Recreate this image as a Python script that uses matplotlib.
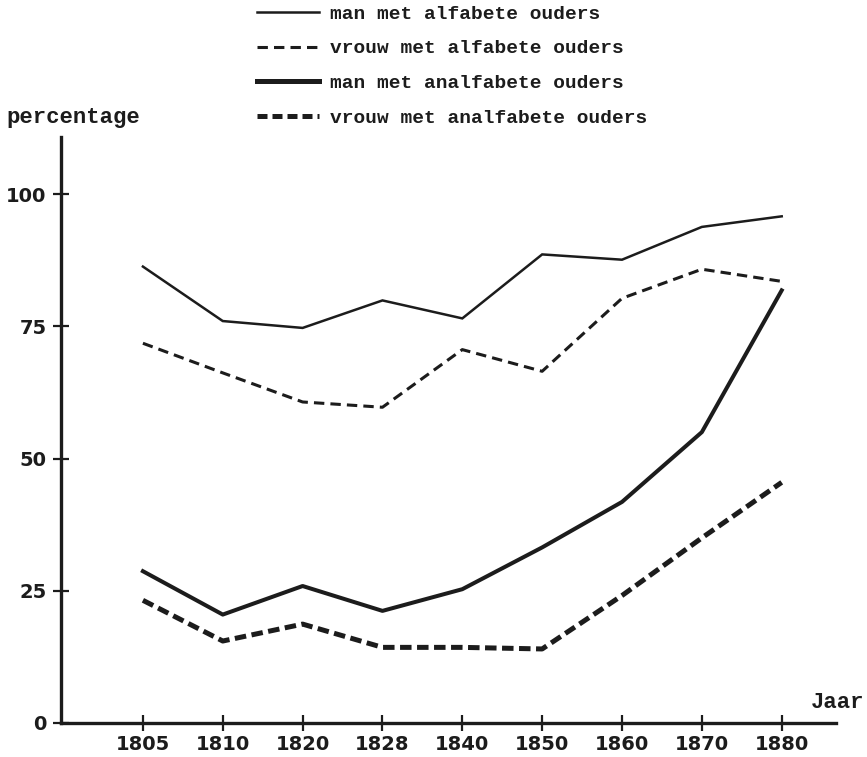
import matplotlib.pyplot as plt
from matplotlib.lines import Line2D
import numpy as np

# jaren op de x-as (gelijke afstanden)
jaren = ['1805', '1810', '1820', '1828', '1840', '1850', '1860', '1870', '1880']
y_ticks = [0, 25, 50, 75, 100]

# percentages
man_alfabeet = [86.3, 76.0, 74.7, 79.9, 76.5, 88.6, 87.6, 93.8, 95.8]
vrouw_alfabeet = [71.8, 66.2, 60.7, 59.7, 70.6, 66.5, 80.3, 85.8, 83.5]
man_analfabeet = [28.7, 20.5, 25.9, 21.2, 25.3, 33.2, 41.8, 55.0, 81.8]
vrouw_analfabeet = [23.2, 15.5, 18.7, 14.3, 14.3, 14.0, 24.1, 35.0, 45.5]

labels = ['man met alfabete ouders', 'vrouw met alfabete ouders',
          'man met analfabete ouders', 'vrouw met analfabete ouders']

ink = '#1c1c1c'
mono = 'Liberation Mono'

fig = plt.figure(figsize=(8.67, 7.57), dpi=100)
fig.patch.set_facecolor('white')
ax = fig.add_axes([61/867, 1 - 723/757, (836 - 61)/867, (723 - 137)/757])

x = np.arange(len(jaren))

l1, = ax.plot(x, man_alfabeet, color=ink, lw=1.8, solid_joinstyle='miter')
l2, = ax.plot(x, vrouw_alfabeet, color=ink, lw=2.2, dashes=(3.4, 2.0))
l3, = ax.plot(x, man_analfabeet, color=ink, lw=2.9)
l4, = ax.plot(x, vrouw_analfabeet, color=ink, lw=3.6, dashes=(2.3, 1.1))

ax.set_xlim(-1.026, 8.68)
ax.set_ylim(0, 110.8)

ax.spines['top'].set_visible(False)
ax.spines['right'].set_visible(False)
ax.spines['left'].set_linewidth(2.4)
ax.spines['bottom'].set_linewidth(2.4)
ax.spines['left'].set_color(ink)
ax.spines['bottom'].set_color(ink)

ax.set_xticks(x)
ax.set_xticklabels(jaren)
ax.set_yticks(y_ticks)
ax.set_yticklabels([str(v) for v in y_ticks])
ax.tick_params(axis='both', direction='inout', length=11, width=1.6, color=ink,
               labelsize=14, labelcolor=ink)
ax.tick_params(axis='x', pad=3)
ax.tick_params(axis='y', pad=5)
for lab in ax.get_xticklabels() + ax.get_yticklabels():
    lab.set_fontfamily('DejaVu Sans')
    lab.set_fontweight('bold')

# tekst rond de assen
fig.text(6/867, 1 - 118/757, 'percentage', fontsize=16, family=mono,
         fontweight='bold', color=ink, va='center', ha='left')
fig.text(864/867, 1 - 702/757, 'Jaar', fontsize=16, family=mono,
         fontweight='bold', color=ink, va='center', ha='right')

# legenda bovenaan
handles = [Line2D([], [], color=ink, lw=1.8),
           Line2D([], [], color=ink, lw=2.2, dashes=(3.4, 2.0)),
           Line2D([], [], color=ink, lw=3.6),
           Line2D([], [], color=ink, lw=3.6, dashes=(2.0, 1.0))]
fig.legend(handles, labels, loc='upper left', bbox_to_anchor=(257/867, 1 - 5/757),
           frameon=False, prop={'family': mono, 'size': 14, 'weight': 'bold'},
           handlelength=3.2, handletextpad=0.55, labelspacing=0.88,
           borderpad=0, borderaxespad=0, labelcolor=ink)

fig.savefig('out.png', dpi=100, facecolor='white')
